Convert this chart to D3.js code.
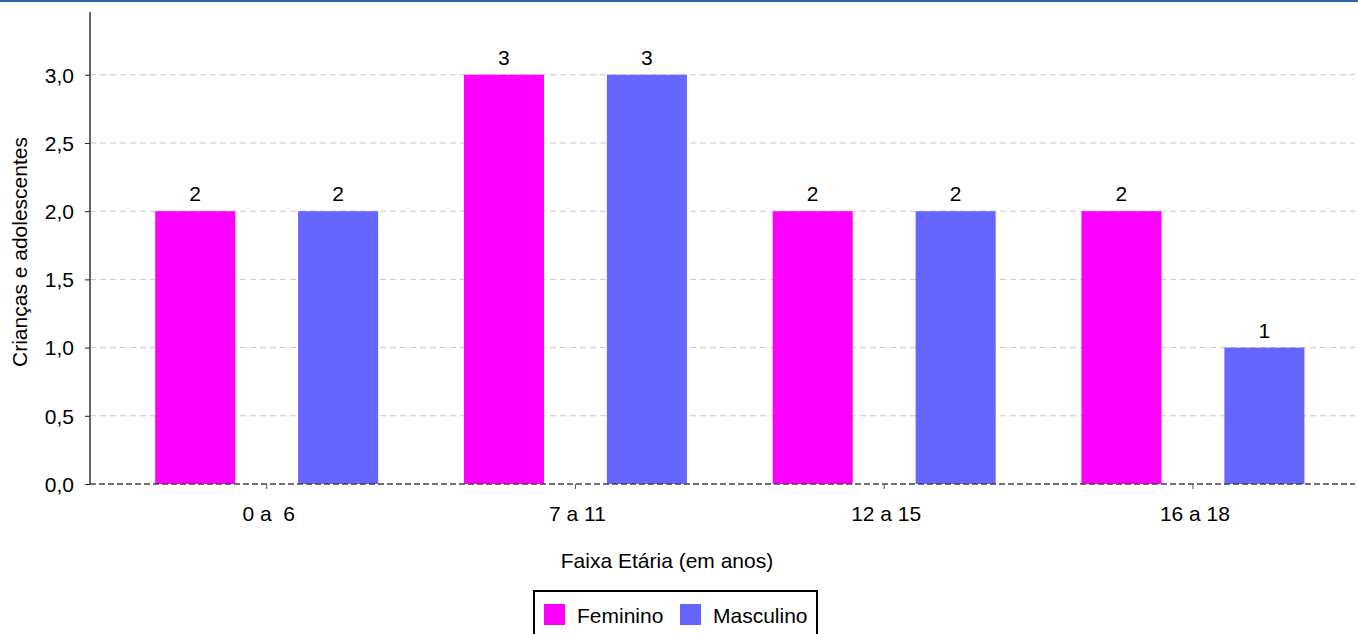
<!DOCTYPE html>
<html>
<head>
<meta charset="utf-8">
<script src="https://cdn.jsdelivr.net/npm/d3@7"></script>
<style>
  body { margin: 0; background: #fff; }
  text { font-family: "Liberation Sans", Arial, sans-serif; fill: #000; }
</style>
</head>
<body>
<script>
// Data
const categories = ["0 a  6", "7 a 11", "12 a 15", "16 a 18"];
const series = ["Feminino", "Masculino"];
const feminino = [2, 3, 2, 2];
const masculino = [2, 3, 2, 1];
const yTicks = [0, 0.5, 1, 1.5, 2, 2.5, 3];
const colors = ["#ff00ff", "#6666ff"];

const W = 1358, H = 634;
const plot = { left: 90, right: 1355, top: 12, bottom: 484 };
const fs = "21px";

const svg = d3.select("body").append("svg")
  .attr("width", W)
  .attr("height", H);

// Top bar
svg.append("rect")
  .attr("x", 0).attr("y", 0)
  .attr("width", W).attr("height", 2)
  .style("fill", "#2467a9");

const x0 = d3.scaleBand()
  .domain(categories)
  .range([112.3, 1347.3]);

const x1 = d3.scaleBand()
  .domain(series)
  .range([0, x0.bandwidth()])
  .paddingInner(0.44)
  .paddingOuter(0.3);

const y = d3.scaleLinear()
  .domain([0, 3.46])
  .range([plot.bottom, plot.top]);

// Gridlines
svg.append("g")
  .selectAll("line")
  .data(yTicks.filter(d => d > 0))
  .join("line")
  .attr("x1", plot.left)
  .attr("x2", plot.right)
  .attr("y1", d => y(d))
  .attr("y2", d => y(d))
  .style("stroke", "#c8c8c8")
  .style("stroke-dasharray", "6,4");

// Bars
const rows = categories.map((c, i) => ({ cat: c, vals: [feminino[i], masculino[i]] }));

const grp = svg.append("g")
  .selectAll("g")
  .data(rows)
  .join("g")
  .attr("transform", d => `translate(${x0(d.cat)},0)`);

grp.selectAll("rect")
  .data(d => d.vals.map((v, j) => ({ s: series[j], v: v, j: j })))
  .join("rect")
  .attr("x", d => x1(d.s))
  .attr("width", x1.bandwidth())
  .attr("y", d => y(d.v))
  .attr("height", d => y(0) - y(d.v))
  .style("fill", d => colors[d.j]);

grp.selectAll("text")
  .data(d => d.vals.map((v, j) => ({ s: series[j], v: v })))
  .join("text")
  .attr("x", d => x1(d.s) + x1.bandwidth() / 2)
  .attr("y", d => y(d.v) - 10)
  .attr("text-anchor", "middle")
  .style("font-size", fs)
  .text(d => d.v);

// Baseline (dashed, dark)
svg.append("line")
  .attr("x1", plot.left).attr("x2", plot.right)
  .attr("y1", y(0)).attr("y2", y(0))
  .style("stroke", "#444")
  .style("stroke-width", 1.5)
  .style("stroke-dasharray", "6,3");

// Y axis
const yAxis = svg.append("g")
  .attr("transform", `translate(${plot.left},0)`)
  .call(d3.axisLeft(y)
    .tickValues(yTicks)
    .tickSize(5)
    .tickPadding(11)
    .tickFormat(d => d3.format(".1f")(d).replace(".", ",")));
yAxis.select(".domain").remove();
yAxis.selectAll("line").style("stroke", "#222");
yAxis.selectAll("text").style("font-size", fs).attr("dy", "0.35em");

svg.append("line")
  .attr("x1", plot.left).attr("x2", plot.left)
  .attr("y1", plot.top).attr("y2", plot.bottom)
  .style("stroke", "#333")
  .style("stroke-width", 1.5);

// X axis
const xAxis = svg.append("g")
  .attr("transform", `translate(0,${plot.bottom})`)
  .call(d3.axisBottom(x0).tickSize(5).tickPadding(8));
xAxis.select(".domain").remove();
xAxis.selectAll("line").style("stroke", "#555");
xAxis.selectAll("text")
  .attr("dy", null)
  .attr("y", 37)
  .attr("dx", 2)
  .style("font-size", fs)
  .style("white-space", "pre");

// Axis titles
svg.append("text")
  .attr("x", 667)
  .attr("y", 568)
  .attr("text-anchor", "middle")
  .style("font-size", fs)
  .text("Faixa Etária (em anos)");

svg.append("text")
  .attr("transform", `translate(27,252) rotate(-90)`)
  .attr("text-anchor", "middle")
  .style("font-size", fs)
  .text("Crianças e adolescentes");

// Legend
const legend = svg.append("g");
legend.append("rect")
  .attr("x", 534).attr("y", 591)
  .attr("width", 283).attr("height", 50)
  .style("fill", "#fff")
  .style("stroke", "#000")
  .style("stroke-width", 2);

const legX = [544, 680];
series.forEach((s, i) => {
  legend.append("rect")
    .attr("x", legX[i]).attr("y", 604)
    .attr("width", 21).attr("height", 21)
    .style("fill", colors[i]);
  legend.append("text")
    .attr("x", legX[i] + 33).attr("y", 623)
    .style("font-size", fs)
    .text(s);
});
</script>
</body>
</html>
